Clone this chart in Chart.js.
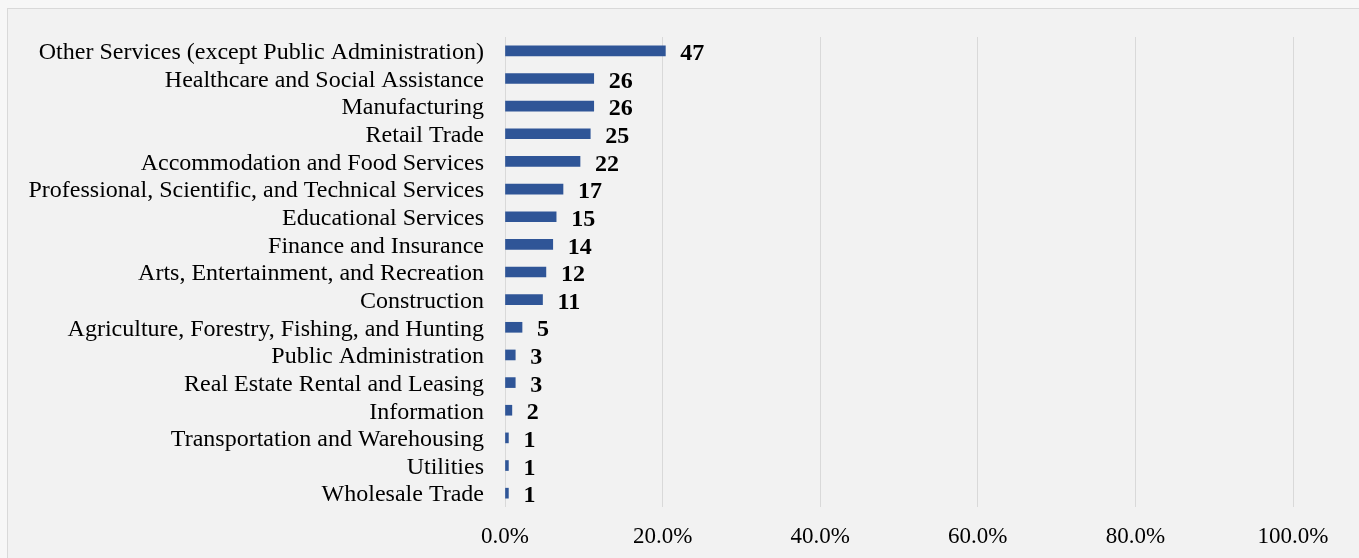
<!DOCTYPE html>
<html>
<head>
<meta charset="utf-8">
<script src="https://cdn.jsdelivr.net/npm/chart.js@4/dist/chart.umd.min.js"></script>
<style>
  html, body { margin: 0; padding: 0; width: 1359px; height: 558px; background: #f7f7f7; overflow: hidden; }
  #frame { position: absolute; left: 7px; top: 8px; width: 1360px; height: 560px; border: 1px solid #d9d9d9; background: #f2f2f2; }
  #wrap { position: absolute; left: 0; top: 0; width: 1359px; height: 558px; }
</style>
</head>
<body>
<div id="frame"></div>
<div id="wrap"><canvas id="c" width="1359" height="558"></canvas></div>
<script>
const categories = [
  "Other Services (except Public Administration)",
  "Healthcare and Social Assistance",
  "Manufacturing",
  "Retail Trade",
  "Accommodation and Food Services",
  "Professional, Scientific, and Technical Services",
  "Educational Services",
  "Finance and Insurance",
  "Arts, Entertainment, and Recreation",
  "Construction",
  "Agriculture, Forestry, Fishing, and Hunting",
  "Public Administration",
  "Real Estate Rental and Leasing",
  "Information",
  "Transportation and Warehousing",
  "Utilities",
  "Wholesale Trade"
];
const counts = [47, 26, 26, 25, 22, 17, 15, 14, 12, 11, 5, 3, 3, 2, 1, 1, 1];
const percents = [20.35, 11.26, 11.26, 10.82, 9.52, 7.36, 6.49, 6.06, 5.19, 4.76, 2.16, 1.30, 1.30, 0.87, 0.43, 0.43, 0.43];
const xTicks = [0, 20, 40, 60, 80, 100];

const labelPlugin = {
  id: 'barLabels',
  afterDatasetsDraw(chart) {
    const ctx = chart.ctx;
    const meta = chart.getDatasetMeta(0);
    ctx.save();
    ctx.font = 'bold 24px "Liberation Serif", "Times New Roman", serif';
    ctx.fillStyle = '#000';
    ctx.textAlign = 'left';
    ctx.textBaseline = 'middle';
    meta.data.forEach((bar, i) => {
      ctx.fillText(String(counts[i]), bar.x + 15, bar.y + 3);
    });
    ctx.restore();
  }
};

new Chart(document.getElementById('c'), {
  type: 'bar',
  data: {
    labels: categories,
    datasets: [{
      data: percents,
      backgroundColor: '#2f5597',
      barThickness: 10
    }]
  },
  options: {
    indexAxis: 'y',
    responsive: false,
    animation: false,
    layout: { padding: { left: 0, right: 66, top: 37, bottom: 0 } },
    plugins: { legend: { display: false }, tooltip: { enabled: false } },
    scales: {
      x: {
        min: 0, max: 100,
        afterBuildTicks(scale) { scale.ticks = xTicks.map(v => ({ value: v })); },
        afterFit(scale) { scale.height = 51; },
        grid: { color: '#d9d9d9', lineWidth: 1, drawTicks: false },
        border: { display: false },
        ticks: {
          padding: 16,
          color: '#000',
          font: { family: '"Liberation Serif", "Times New Roman", serif', size: 23 },
          callback: v => v.toFixed(1) + '%'
        }
      },
      y: {
        afterFit(scale) { scale.width = 505; },
        grid: { display: false },
        border: { display: false },
        ticks: {
          padding: 13,
          labelOffset: 2,
          autoSkip: false,
          color: '#000',
          font: { family: '"Liberation Serif", "Times New Roman", serif', size: 24 }
        }
      }
    }
  },
  plugins: [labelPlugin]
});
</script>
</body>
</html>
